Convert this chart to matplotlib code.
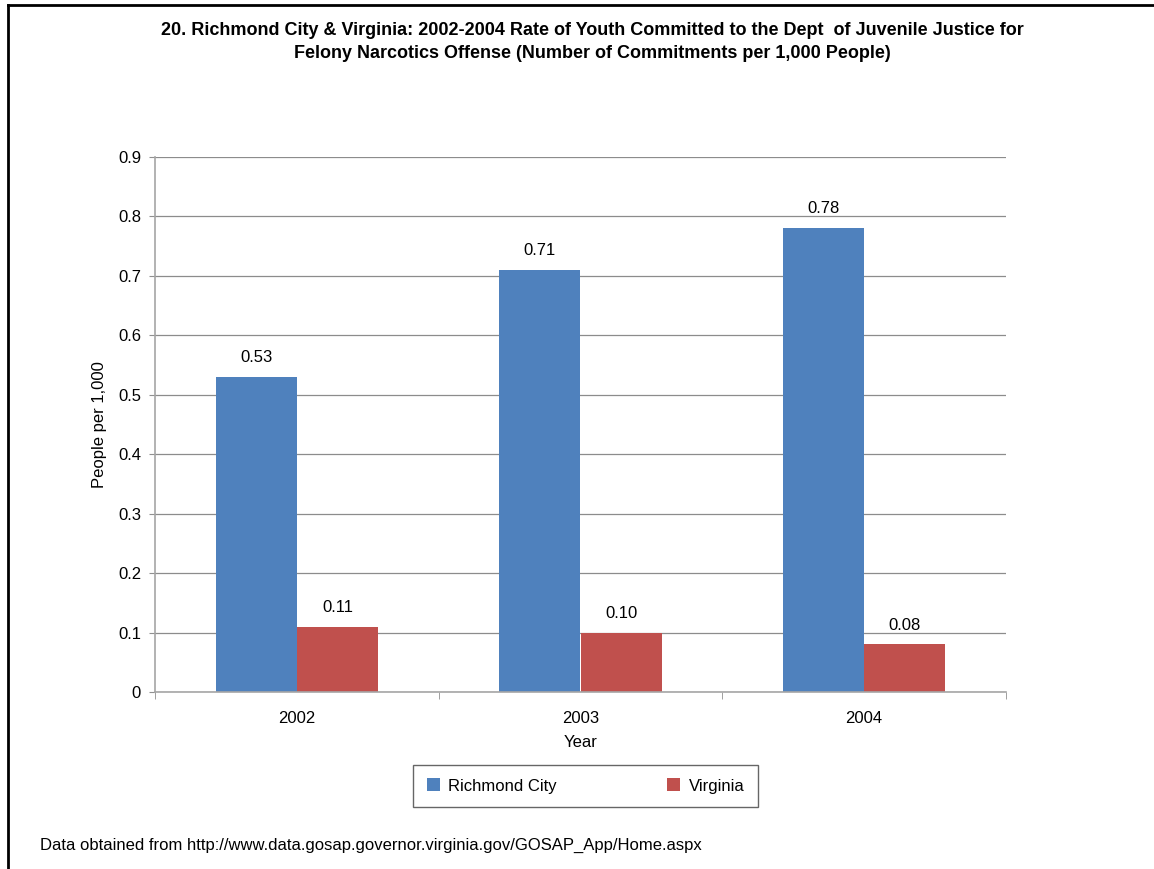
import numpy as np
import matplotlib.pyplot as plt
from matplotlib.lines import Line2D

plt.rcParams['font.family'] = ['Liberation Sans', 'DejaVu Sans']

# data
years = ['2002', '2003', '2004']
richmond = [0.53, 0.71, 0.78]
virginia = [0.11, 0.10, 0.08]
blue = '#4F81BD'
red = '#C0504D'

W, H = 1154, 869
fig = plt.figure(figsize=(W / 100, H / 100), dpi=100)
ax = fig.add_axes([155 / W, 1 - 692 / H, (1006 - 155) / W, (692 - 157) / H])

x = np.arange(len(years))
w = 0.286
b1 = ax.bar(x - w / 2, richmond, w, color=blue, label='Richmond City')
b2 = ax.bar(x + w / 2, virginia, w, color=red, label='Virginia')
for bars, vals in ((b1, richmond), (b2, virginia)):
    for r, v in zip(bars, vals):
        ax.text(r.get_x() + r.get_width() / 2, v + 0.02, f'{v:.2f}',
                ha='center', va='bottom', fontsize=12)

ax.set_xlim(-0.5, len(years) - 0.5)
ax.set_ylim(0, 0.9)
ax.set_yticks(np.arange(0, 0.91, 0.1))
ax.set_yticklabels(['0'] + [f'{v:.1f}' for v in np.arange(0.1, 0.91, 0.1)])
ax.set_xticks(x)
ax.set_xticklabels(years)
ax.set_xticks(np.arange(-0.5, len(years), 1), minor=True)
ax.tick_params(axis='x', which='major', length=0, labelsize=12, pad=14)
ax.tick_params(axis='x', which='minor', length=5, color='#909090')
ax.tick_params(axis='y', length=4, color='#909090', labelsize=12, pad=6)
ax.yaxis.grid(True, color='#8c8c8c', linewidth=0.9)
ax.set_axisbelow(True)
for s in ('top', 'right'):
    ax.spines[s].set_visible(False)
for s in ('left', 'bottom'):
    ax.spines[s].set_color('#a6a6a6')
    ax.spines[s].set_linewidth(1.2)
ax.set_xlabel('Year', fontsize=12, labelpad=6)
ax.set_ylabel('People per 1,000', fontsize=12, labelpad=8)

fig.text(592 / W, 1 - 42 / H,
         '20. Richmond City & Virginia: 2002-2004 Rate of Youth Committed to the Dept  of Juvenile Justice for\n'
         'Felony Narcotics Offense (Number of Commitments per 1,000 People)',
         ha='center', va='center', fontsize=13, fontweight='bold', linespacing=1.45)

leg = fig.legend(loc='center', ncol=2,
                 fontsize=12, frameon=True, fancybox=False, edgecolor='#404040',
                 handlelength=0.8, handleheight=0.8, columnspacing=6.6,
                 borderpad=0.8, handletextpad=0.5)
leg.get_frame().set_linewidth(1.0)
leg.set_bbox_to_anchor(((411 + 760) / 2 / W, 1 - 786 / H), transform=fig.transFigure)

fig.text(40 / W, 1 - 845 / H,
         'Data obtained from http://www.data.gosap.governor.virginia.gov/GOSAP_App/Home.aspx',
         ha='left', va='center', fontsize=12)

# outer border (top and left only visible)
fig.add_artist(Line2D([8 / W, 8 / W], [0, 1 - 5 / H], transform=fig.transFigure,
                      color='black', linewidth=2))
fig.add_artist(Line2D([8 / W, 1], [1 - 5 / H, 1 - 5 / H], transform=fig.transFigure,
                      color='black', linewidth=2))

fig.savefig('out.png', dpi=100)
